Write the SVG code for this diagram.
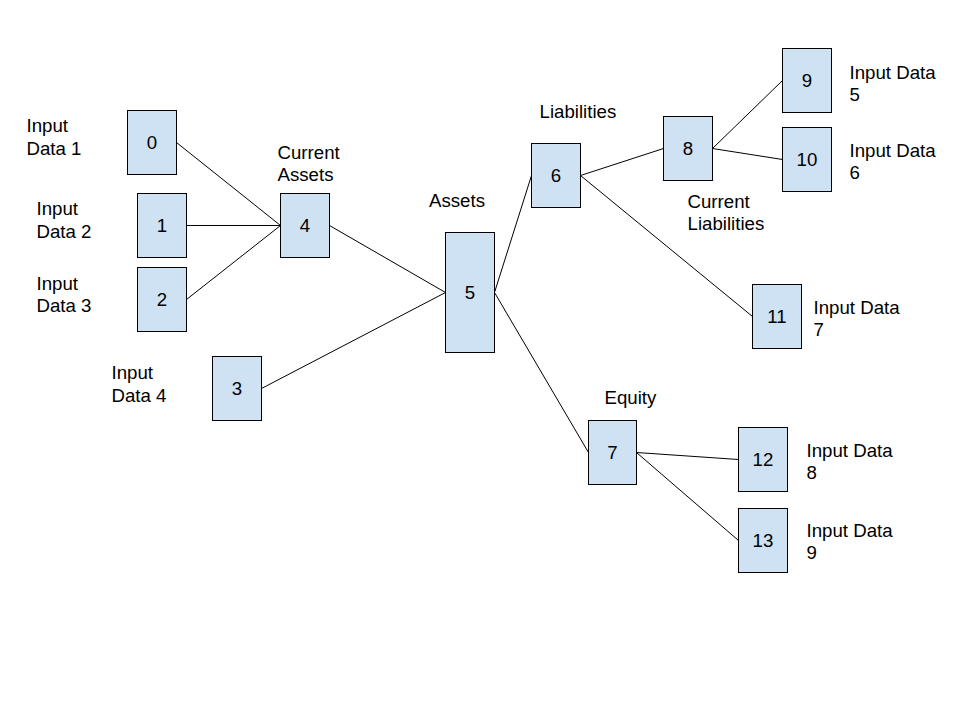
<svg xmlns="http://www.w3.org/2000/svg" width="960" height="720" viewBox="0 0 960 720">
<style>
.box{fill:#cfe2f3;stroke:#000;stroke-width:1}
.edge{stroke:#000;stroke-width:1;fill:none}
text{font-family:"Liberation Sans",Arial,sans-serif;font-size:18.67px;fill:#000}
.num{text-anchor:middle}
</style>
<rect width="960" height="720" fill="#fff"/>
<g id="connectors">
<line class="edge" x1="176.5" y1="142.5" x2="280.5" y2="225.5"/>
<line class="edge" x1="186.5" y1="225.5" x2="280.5" y2="225.5"/>
<line class="edge" x1="186.5" y1="299.5" x2="280.5" y2="225.5"/>
<line class="edge" x1="329.5" y1="225.5" x2="445.5" y2="292.5"/>
<line class="edge" x1="261.5" y1="388.5" x2="445.5" y2="292.5"/>
<line class="edge" x1="494.5" y1="292.5" x2="531.5" y2="175.5"/>
<line class="edge" x1="494.5" y1="292.5" x2="588.5" y2="452.5"/>
<line class="edge" x1="580.5" y1="175.5" x2="663.5" y2="148.5"/>
<line class="edge" x1="580.5" y1="175.5" x2="752.5" y2="316.5"/>
<line class="edge" x1="712.5" y1="148.5" x2="782.5" y2="80.5"/>
<line class="edge" x1="712.5" y1="148.5" x2="782.5" y2="159.5"/>
<line class="edge" x1="636.5" y1="452.5" x2="738.5" y2="459.5"/>
<line class="edge" x1="636.5" y1="452.5" x2="738.5" y2="540.5"/>
</g>
<g id="node0"><rect class="box" x="127.5" y="110.5" width="49" height="64"/><text class="num" x="152" y="149.2">0</text></g>
<g id="node1"><rect class="box" x="137.5" y="193.5" width="49" height="64"/><text class="num" x="162" y="232.2">1</text></g>
<g id="node2"><rect class="box" x="137.5" y="267.5" width="49" height="64"/><text class="num" x="162" y="306.2">2</text></g>
<g id="node3"><rect class="box" x="212.5" y="356.5" width="49" height="64"/><text class="num" x="237" y="395.2">3</text></g>
<g id="node4"><rect class="box" x="280.5" y="193.5" width="49" height="64"/><text class="num" x="305" y="232.2">4</text></g>
<g id="node5"><rect class="box" x="445.5" y="232.5" width="49" height="120"/><text class="num" x="470" y="299.2">5</text></g>
<g id="node6"><rect class="box" x="531.5" y="143.5" width="49" height="64"/><text class="num" x="556" y="182.2">6</text></g>
<g id="node7"><rect class="box" x="588.5" y="420.5" width="48" height="64"/><text class="num" x="612.5" y="459.2">7</text></g>
<g id="node8"><rect class="box" x="663.5" y="116.5" width="49" height="64"/><text class="num" x="688" y="155.2">8</text></g>
<g id="node9"><rect class="box" x="782.5" y="48.5" width="49" height="64"/><text class="num" x="807" y="87.2">9</text></g>
<g id="node10"><rect class="box" x="782.5" y="127.5" width="49" height="64"/><text class="num" x="807" y="166.2">10</text></g>
<g id="node11"><rect class="box" x="752.5" y="284.5" width="49" height="64"/><text class="num" x="777" y="323.2">11</text></g>
<g id="node12"><rect class="box" x="738.5" y="427.5" width="49" height="64"/><text class="num" x="763" y="466.2">12</text></g>
<g id="node13"><rect class="box" x="738.5" y="508.5" width="49" height="64"/><text class="num" x="763" y="547.2">13</text></g>
<g id="labels">
<text x="26.5" y="132">Input<tspan x="26.5" y="154.5">Data 1</tspan></text>
<text x="36.5" y="215">Input<tspan x="36.5" y="237.5">Data 2</tspan></text>
<text x="36.5" y="290">Input<tspan x="36.5" y="312">Data 3</tspan></text>
<text x="111.5" y="379">Input<tspan x="111.5" y="401.5">Data 4</tspan></text>
<text x="277.5" y="158.5">Current<tspan x="277.5" y="181">Assets</tspan></text>
<text x="429" y="207">Assets</text>
<text x="539.5" y="117.5">Liabilities</text>
<text x="687.5" y="207.5">Current<tspan x="687.5" y="230">Liabilities</tspan></text>
<text x="849.5" y="78.5">Input Data<tspan x="849.5" y="100.5">5</tspan></text>
<text x="849.5" y="157">Input Data<tspan x="849.5" y="179">6</tspan></text>
<text x="813.5" y="314">Input Data<tspan x="813.5" y="336">7</tspan></text>
<text x="604.5" y="403.5">Equity</text>
<text x="806.5" y="457">Input Data<tspan x="806.5" y="479">8</tspan></text>
<text x="806.5" y="537">Input Data<tspan x="806.5" y="559">9</tspan></text>
</g>
</svg>
